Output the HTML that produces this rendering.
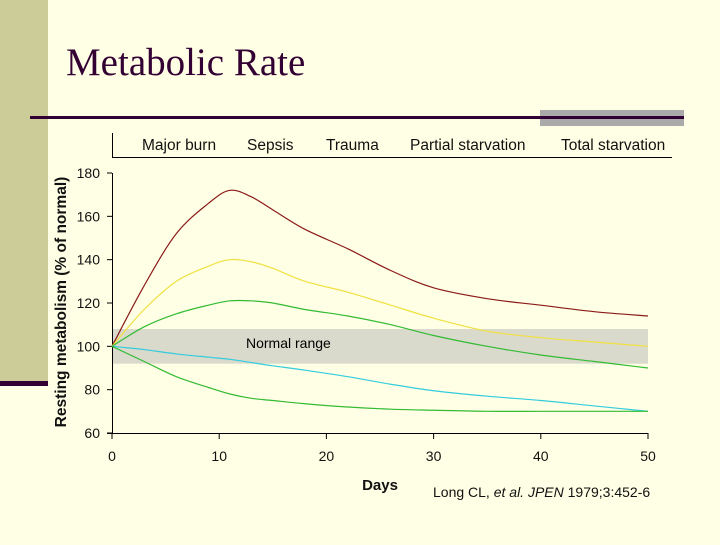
<!DOCTYPE html>
<html><head><meta charset="utf-8"><style>
body{margin:0;width:720px;height:540px;overflow:hidden;background:#ffffe5;font-family:"Liberation Sans",Arial,sans-serif}
</style></head><body>
<svg width="720" height="540" xmlns="http://www.w3.org/2000/svg">
<rect x="0" y="0" width="720" height="540" fill="#ffffe5"/>
<rect x="0" y="0" width="48" height="382" fill="#cccc99"/>
<rect x="0" y="381" width="48" height="5" fill="#330033"/>
<text x="66" y="75" font-family="Liberation Serif,serif" font-size="39" fill="#330033">Metabolic Rate</text>
<rect x="540" y="110" width="144" height="16" fill="#aaaaaa"/>
<rect x="30" y="116" width="654" height="3" fill="#330033"/>
<g font-size="15.5" fill="#111">
<line x1="112.5" y1="133" x2="112.5" y2="157" stroke="#000"/>
<line x1="112" y1="157.5" x2="672" y2="157.5" stroke="#000"/>
<text x="142" y="150">Major burn</text>
<text x="247" y="150">Sepsis</text>
<text x="326" y="150">Trauma</text>
<text x="410" y="150">Partial starvation</text>
<text x="561" y="150">Total starvation</text>
</g>
<g id="chart"></g>
<text transform="translate(66,302) rotate(-90)" text-anchor="middle" font-size="15.5" font-weight="bold" fill="#111">Resting metabolism (% of normal)</text>
<text x="380" y="490" text-anchor="middle" font-size="15" font-weight="bold" fill="#111">Days</text>
<text x="433" y="497" font-size="14" fill="#111">Long CL, <tspan font-style="italic">et al. JPEN</tspan> 1979;3:452-6</text>
</svg>
<script>
const days=[0,3,6,9,11,13,15,18,22,26,30,35,40,45,50];
const burn=[100,128,152,166,172,169,163,154,145,135,127,122,119,116,114];
const sepsis=[100,117,130,137,140,139,136,130,125,119,113,107,104,102,100];
const trauma=[100,109,115,119,121,121,120,117,114,110,105,100,96,93,90];
const partial=[100,98.5,96.5,95,94,92.5,91,89,86,82.5,79.5,77,75,72.5,70];
const total=[100,93,86,81,78,76,75,73.5,72,71,70.5,70,70,70,70];
const xTicks=[0,10,20,30,40,50];
const yTicks=[60,80,100,120,140,160,180];
const normalRange=[92,108];
const NS="http://www.w3.org/2000/svg";
const g=document.getElementById('chart');
const X=d=>112+d*(648-112)/50;
const Y=v=>433-(v-60)*(433-173)/120;
function mk(t,a){const e=document.createElementNS(NS,t);for(const k in a)e.setAttribute(k,a[k]);g.appendChild(e);return e;}
let band=mk('rect',{x:X(0),y:Y(normalRange[1]),width:X(50)-X(0),height:Y(normalRange[0])-Y(normalRange[1]),fill:'#d9d9cc'});


let bt=mk('text',{x:246,y:348,'font-size':14,fill:'#000'});bt.textContent='Normal range';


let ax=mk('line',{x1:112.5,y1:Y(180),x2:112.5,y2:433,stroke:'#000'});


let axx=mk('line',{x1:107,y1:433.5,x2:X(50),y2:433.5,stroke:'#000'});


yTicks.forEach(v=>{
 let l=mk('line',{x1:107,x2:112,y1:Y(v),y2:Y(v),stroke:'#000'});
 
 
 let t=mk('text',{x:100,y:Y(v)+5,'text-anchor':'end','font-size':14,fill:'#111'});t.textContent=v;
 
 
});
xTicks.forEach(d=>{
 let l=mk('line',{x1:X(d),x2:X(d),y1:433,y2:439,stroke:'#000'});
 
 
 let t=mk('text',{x:X(d),y:461,'text-anchor':'middle','font-size':14,fill:'#111'});t.textContent=d;
 
 
});
function curve(vals,color,name){
 const p=days.map((d,i)=>[X(d),Y(vals[i])]);
 let s='M'+p[0][0]+','+p[0][1];
 for(let i=0;i<p.length-1;i++){
  const p0=p[Math.max(0,i-1)],p1=p[i],p2=p[i+1],p3=p[Math.min(p.length-1,i+2)];
  const c1=[p1[0]+(p2[0]-p0[0])/6,p1[1]+(p2[1]-p0[1])/6];
  const c2=[p2[0]-(p3[0]-p1[0])/6,p2[1]-(p3[1]-p1[1])/6];
  s+=' C'+c1+' '+c2+' '+p2;
 }
 let e=mk('path',{d:s,fill:'none',stroke:color,'stroke-width':1.2});
 
 
}
curve(burn,'#8b1a1a','line-major-burn');
curve(sepsis,'#f0e040','line-sepsis');
curve(trauma,'#33bb33','line-trauma');
curve(partial,'#33ccdd','line-partial-starvation');
curve(total,'#33bb33','line-total-starvation');
</script>
</body></html>
